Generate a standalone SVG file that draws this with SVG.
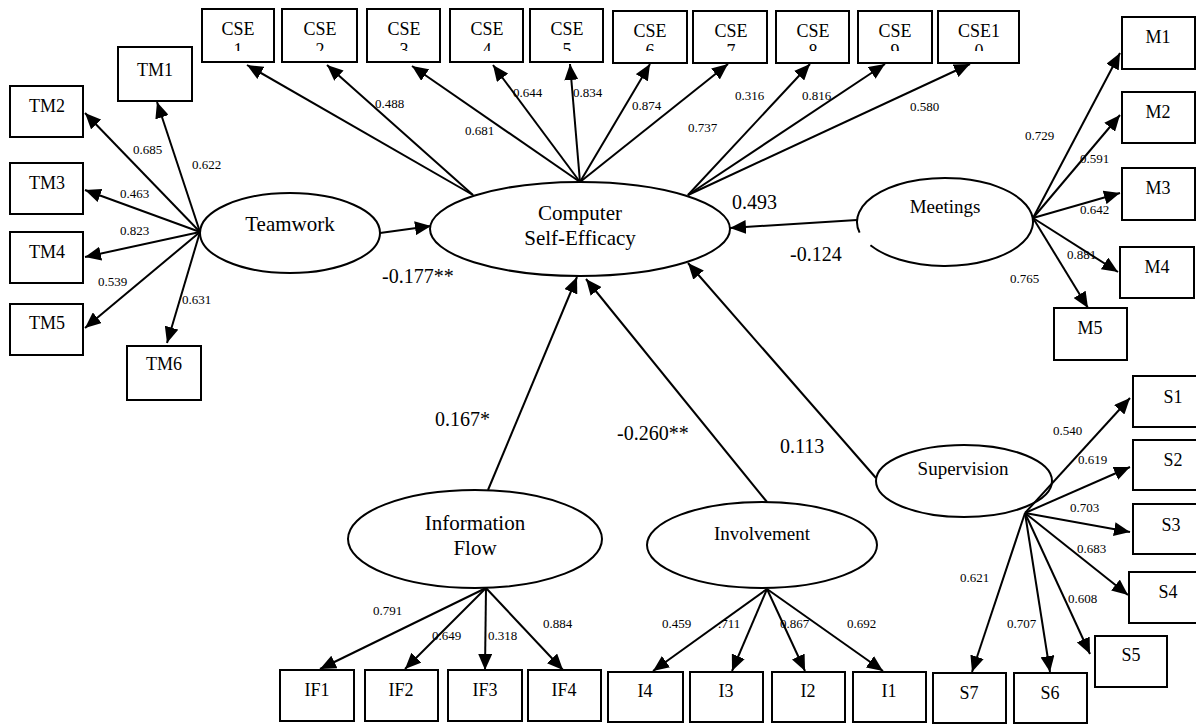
<svg xmlns="http://www.w3.org/2000/svg" width="1196" height="725" viewBox="0 0 1196 725">
  <style>
    .box { fill: #fff; stroke: #000; stroke-width: 2; }
    .lat { fill: #fff; stroke: #000; stroke-width: 2; }
    .lbl { font-family: "Liberation Serif", "Times New Roman", serif; font-size: 18px; text-anchor: middle; fill: #000; }
    .lat-t { font-family: "Liberation Serif", "Times New Roman", serif; font-size: 21px; text-anchor: middle; fill: #000; }
    .lat-s { font-family: "Liberation Serif", "Times New Roman", serif; font-size: 19px; text-anchor: middle; fill: #000; }
    .w { font-family: "Liberation Serif", "Times New Roman", serif; font-size: 13px; fill: #000; }
    .p { font-family: "Liberation Serif", "Times New Roman", serif; font-size: 20px; fill: #000; }
    .edge { stroke: #000; stroke-width: 2; fill: none; marker-end: url(#arrow); }
  </style>
  <defs>
    <marker id="arrow" markerUnits="userSpaceOnUse" markerWidth="17" markerHeight="14" refX="16" refY="7" orient="auto">
      <path d="M0,0 L16,7 L0,14 z" fill="#000"/>
    </marker>
    <!-- second line of the CSE item labels is cut at the box's lower text margin -->
    <clipPath id="cseClip" clipPathUnits="userSpaceOnUse">
      <rect x="0" y="0" width="1196" height="51"/>
    </clipPath>
  </defs>

  <rect width="1196" height="725" fill="#fff"/>

  <!-- connectors -->
  <g id="connectors">
    <!-- Computer Self-Efficacy loadings -->
    <line class="edge" x1="473" y1="195" x2="247" y2="65"/>
    <line class="edge" x1="473" y1="195" x2="327" y2="65"/>
    <line class="edge" x1="580" y1="182" x2="412" y2="66"/>
    <line class="edge" x1="580" y1="182" x2="493" y2="65"/>
    <line class="edge" x1="580" y1="182" x2="570" y2="64"/>
    <line class="edge" x1="580" y1="182" x2="650" y2="64"/>
    <line class="edge" x1="580" y1="182" x2="728" y2="64"/>
    <line class="edge" x1="688" y1="195" x2="810" y2="64"/>
    <line class="edge" x1="688" y1="195" x2="885" y2="64"/>
    <line class="edge" x1="688" y1="195" x2="970" y2="64"/>
    <!-- Teamwork loadings -->
    <line class="edge" x1="200" y1="232" x2="157" y2="102"/>
    <line class="edge" x1="200" y1="232" x2="85" y2="113"/>
    <line class="edge" x1="200" y1="232" x2="85" y2="190"/>
    <line class="edge" x1="200" y1="232" x2="85" y2="257"/>
    <line class="edge" x1="200" y1="232" x2="85" y2="328"/>
    <line class="edge" x1="200" y1="232" x2="167" y2="343"/>
    <!-- Meetings loadings -->
    <line class="edge" x1="1033" y1="218" x2="1120" y2="53"/>
    <line class="edge" x1="1033" y1="218" x2="1120" y2="115"/>
    <line class="edge" x1="1033" y1="218" x2="1120" y2="193"/>
    <line class="edge" x1="1033" y1="218" x2="1118" y2="272"/>
    <line class="edge" x1="1033" y1="218" x2="1088" y2="308"/>
    <!-- Supervision loadings -->
    <line class="edge" x1="1025" y1="513" x2="1130" y2="398"/>
    <line class="edge" x1="1025" y1="513" x2="1130" y2="467"/>
    <line class="edge" x1="1025" y1="513" x2="1130" y2="532"/>
    <line class="edge" x1="1025" y1="513" x2="1128" y2="595"/>
    <line class="edge" x1="1025" y1="513" x2="1090" y2="654"/>
    <line class="edge" x1="1025" y1="513" x2="1050" y2="672"/>
    <line class="edge" x1="1025" y1="513" x2="972" y2="672"/>
    <!-- Information Flow loadings -->
    <line class="edge" x1="486" y1="588" x2="320" y2="669"/>
    <line class="edge" x1="486" y1="588" x2="405" y2="669"/>
    <line class="edge" x1="486" y1="588" x2="485" y2="670"/>
    <line class="edge" x1="486" y1="588" x2="563" y2="670"/>
    <!-- Involvement loadings -->
    <line class="edge" x1="767" y1="589" x2="653" y2="671"/>
    <line class="edge" x1="767" y1="589" x2="732" y2="671"/>
    <line class="edge" x1="767" y1="589" x2="805" y2="671"/>
    <line class="edge" x1="767" y1="589" x2="883" y2="671"/>
    <!-- structural paths into Computer Self-Efficacy -->
    <line class="edge" x1="380" y1="233" x2="431" y2="226"/>
    <line class="edge" x1="857" y1="220" x2="730" y2="228"/>
    <line class="edge" x1="488" y1="490" x2="577" y2="277"/>
    <line class="edge" x1="767" y1="502" x2="586" y2="279"/>
    <line class="edge" x1="876" y1="478" x2="688" y2="263"/>
  </g>

  <!-- path coefficients and loadings -->
  <g id="weights">
    <text class="w" x="375" y="108">0.488</text>
    <text class="w" x="465" y="135">0.681</text>
    <text class="w" x="513" y="97">0.644</text>
    <text class="w" x="573" y="97">0.834</text>
    <text class="w" x="632" y="110">0.874</text>
    <text class="w" x="688" y="132">0.737</text>
    <text class="w" x="735" y="100">0.316</text>
    <text class="w" x="802" y="100">0.816</text>
    <text class="w" x="910" y="111">0.580</text>

    <text class="w" x="133" y="154">0.685</text>
    <text class="w" x="192" y="169">0.622</text>
    <text class="w" x="120" y="198">0.463</text>
    <text class="w" x="120" y="235">0.823</text>
    <text class="w" x="98" y="286">0.539</text>
    <text class="w" x="182" y="304">0.631</text>

    <text class="w" x="1025" y="140">0.729</text>
    <text class="w" x="1080" y="163">0.591</text>
    <text class="w" x="1080" y="214">0.642</text>
    <text class="w" x="1067" y="259">0.881</text>
    <text class="w" x="1010" y="283">0.765</text>

    <text class="w" x="1053" y="435">0.540</text>
    <text class="w" x="1078" y="464">0.619</text>
    <text class="w" x="1070" y="512">0.703</text>
    <text class="w" x="1077" y="553">0.683</text>
    <text class="w" x="960" y="582">0.621</text>
    <text class="w" x="1068" y="603">0.608</text>
    <text class="w" x="1007" y="628">0.707</text>

    <text class="w" x="373" y="615">0.791</text>
    <text class="w" x="432" y="640">0.649</text>
    <text class="w" x="488" y="640">0.318</text>
    <text class="w" x="543" y="628">0.884</text>
    <text class="w" x="662" y="628">0.459</text>
    <text class="w" x="718" y="628">.711</text>
    <text class="w" x="780" y="628">0.867</text>
    <text class="w" x="847" y="628">0.692</text>

    <text class="p" x="382" y="283">-0.177**</text>
    <text class="p" x="732" y="209">0.493</text>
    <text class="p" x="790" y="261">-0.124</text>
    <text class="p" x="435" y="426">0.167*</text>
    <text class="p" x="617" y="440">-0.260**</text>
    <text class="p" x="780" y="453">0.113</text>
  </g>

  <!-- latent constructs -->
  <g id="cse-latent">
    <ellipse class="lat" cx="580" cy="229" rx="150" ry="47"/>
    <text class="lat-t" x="580" y="220">Computer</text>
    <text class="lat-t" x="580" y="245">Self-Efficacy</text>
  </g>
  <g id="teamwork">
    <ellipse class="lat" cx="290" cy="233" rx="90" ry="40"/>
    <text class="lat-t" x="290" y="231">Teamwork</text>
  </g>
  <g id="meetings">
    <!-- outline left open at the lower left -->
    <path class="lat" d="M859.6,232.6 A88,44 0 1 1 870.4,245.3"/>
    <text class="lat-s" x="945" y="213">Meetings</text>
  </g>
  <g id="supervision">
    <!-- unfilled so the loading lines show through its lower right -->
    <ellipse class="lat" cx="964" cy="481" rx="88" ry="36" style="fill:none"/>
    <text class="lat-s" x="963" y="475">Supervision</text>
  </g>
  <g id="information-flow">
    <ellipse class="lat" cx="475" cy="539" rx="127" ry="49"/>
    <text class="lat-t" x="475" y="530">Information</text>
    <text class="lat-t" x="475" y="555">Flow</text>
  </g>
  <g id="involvement">
    <ellipse class="lat" cx="762" cy="545" rx="115" ry="43"/>
    <text class="lat-s" x="762" y="540">Involvement</text>
  </g>

  <!-- CSE indicator items -->
  <g id="cse1"><rect class="box" x="202" y="9" width="72" height="53"/><text class="lbl" x="238" y="35">CSE</text><text class="lbl" x="238" y="56" clip-path="url(#cseClip)">1</text></g>
  <g id="cse2"><rect class="box" x="282" y="9" width="75" height="53"/><text class="lbl" x="320" y="35">CSE</text><text class="lbl" x="320" y="56" clip-path="url(#cseClip)">2</text></g>
  <g id="cse3"><rect class="box" x="367" y="9" width="73" height="53"/><text class="lbl" x="404" y="35">CSE</text><text class="lbl" x="404" y="56" clip-path="url(#cseClip)">3</text></g>
  <g id="cse4"><rect class="box" x="450" y="9" width="73" height="53"/><text class="lbl" x="487" y="35">CSE</text><text class="lbl" x="487" y="56" clip-path="url(#cseClip)">4</text></g>
  <g id="cse5"><rect class="box" x="530" y="9" width="73" height="53"/><text class="lbl" x="567" y="35">CSE</text><text class="lbl" x="567" y="56" clip-path="url(#cseClip)">5</text></g>
  <g id="cse6"><rect class="box" x="613" y="11" width="74" height="52"/><text class="lbl" x="650" y="37">CSE</text><text class="lbl" x="650" y="57" clip-path="url(#cseClip)">6</text></g>
  <g id="cse7"><rect class="box" x="693" y="11" width="74" height="52"/><text class="lbl" x="731" y="37">CSE</text><text class="lbl" x="731" y="57" clip-path="url(#cseClip)">7</text></g>
  <g id="cse8"><rect class="box" x="776" y="11" width="73" height="52"/><text class="lbl" x="813" y="37">CSE</text><text class="lbl" x="813" y="57" clip-path="url(#cseClip)">8</text></g>
  <g id="cse9"><rect class="box" x="858" y="11" width="74" height="52"/><text class="lbl" x="895" y="37">CSE</text><text class="lbl" x="895" y="57" clip-path="url(#cseClip)">9</text></g>
  <g id="cse10"><rect class="box" x="938" y="11" width="81" height="52"/><text class="lbl" x="979" y="37">CSE1</text><text class="lbl" x="979" y="57" clip-path="url(#cseClip)">0</text></g>

  <!-- Teamwork items -->
  <g id="tm1"><rect class="box" x="118" y="47" width="74" height="54"/><text class="lbl" x="155" y="76">TM1</text></g>
  <g id="tm2"><rect class="box" x="10" y="86" width="73" height="51"/><text class="lbl" x="47" y="112">TM2</text></g>
  <g id="tm3"><rect class="box" x="10" y="163" width="73" height="51"/><text class="lbl" x="47" y="189">TM3</text></g>
  <g id="tm4"><rect class="box" x="10" y="232" width="73" height="51"/><text class="lbl" x="47" y="258">TM4</text></g>
  <g id="tm5"><rect class="box" x="10" y="304" width="73" height="51"/><text class="lbl" x="47" y="329">TM5</text></g>
  <g id="tm6"><rect class="box" x="127" y="346" width="74" height="54"/><text class="lbl" x="164" y="370">TM6</text></g>

  <!-- Meetings items -->
  <g id="m1"><rect class="box" x="1122" y="17" width="73" height="52"/><text class="lbl" x="1158" y="43">M1</text></g>
  <g id="m2"><rect class="box" x="1122" y="92" width="73" height="51"/><text class="lbl" x="1158" y="118">M2</text></g>
  <g id="m3"><rect class="box" x="1122" y="168" width="73" height="52"/><text class="lbl" x="1158" y="194">M3</text></g>
  <g id="m4"><rect class="box" x="1120" y="247" width="74" height="51"/><text class="lbl" x="1157" y="273">M4</text></g>
  <g id="m5"><rect class="box" x="1054" y="308" width="73" height="52"/><text class="lbl" x="1090" y="334">M5</text></g>

  <!-- Supervision items -->
  <g id="s1"><rect class="box" x="1133" y="376" width="76" height="51"/><text class="lbl" x="1173" y="403">S1</text></g>
  <g id="s2"><rect class="box" x="1133" y="440" width="76" height="50"/><text class="lbl" x="1173" y="466">S2</text></g>
  <g id="s3"><rect class="box" x="1133" y="504" width="76" height="50"/><text class="lbl" x="1171" y="531">S3</text></g>
  <g id="s4"><rect class="box" x="1129" y="572" width="80" height="51"/><text class="lbl" x="1168" y="598">S4</text></g>
  <g id="s5"><rect class="box" x="1095" y="636" width="72" height="51"/><text class="lbl" x="1131" y="661">S5</text></g>
  <g id="s7"><rect class="box" x="933" y="673" width="73" height="50"/><text class="lbl" x="969" y="699">S7</text></g>
  <g id="s6"><rect class="box" x="1014" y="673" width="73" height="50"/><text class="lbl" x="1050" y="699">S6</text></g>

  <!-- Information Flow items -->
  <g id="if1"><rect class="box" x="280" y="670" width="74" height="51"/><text class="lbl" x="317" y="696">IF1</text></g>
  <g id="if2"><rect class="box" x="365" y="670" width="73" height="51"/><text class="lbl" x="401" y="696">IF2</text></g>
  <g id="if3"><rect class="box" x="448" y="670" width="74" height="51"/><text class="lbl" x="485" y="696">IF3</text></g>
  <g id="if4"><rect class="box" x="528" y="670" width="73" height="51"/><text class="lbl" x="564" y="696">IF4</text></g>

  <!-- Involvement items -->
  <g id="i4"><rect class="box" x="608" y="672" width="75" height="50"/><text class="lbl" x="645" y="697">I4</text></g>
  <g id="i3"><rect class="box" x="690" y="672" width="73" height="50"/><text class="lbl" x="726" y="697">I3</text></g>
  <g id="i2"><rect class="box" x="772" y="672" width="73" height="50"/><text class="lbl" x="808" y="697">I2</text></g>
  <g id="i1"><rect class="box" x="853" y="672" width="73" height="50"/><text class="lbl" x="889" y="697">I1</text></g>
</svg>
